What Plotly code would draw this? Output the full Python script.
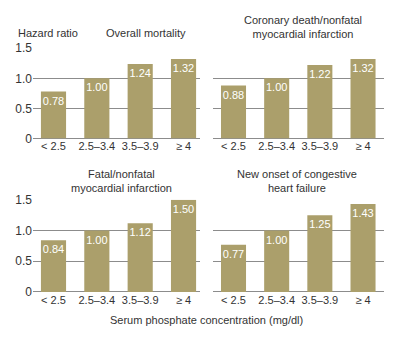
import plotly.graph_objects as go

categories = ["< 2.5", "2.5\u20133.4", "3.5\u20133.9", "\u2265 4"]
overall_mortality = [0.78, 1.00, 1.24, 1.32]
coronary_death = [0.88, 1.00, 1.22, 1.32]
fatal_mi = [0.84, 1.00, 1.12, 1.50]
heart_failure = [0.77, 1.00, 1.25, 1.43]
panel_titles = ["Overall mortality",
                "Coronary death/nonfatal<br>myocardial infarction",
                "Fatal/nonfatal<br>myocardial infarction",
                "New onset of congestive<br>heart failure"]
y_ticks = [0, 0.5, 1.0, 1.5]
y_ticktext = ["0", "0.5", "1.0", "1.5"]

W, H = 400, 344
FONT = "Liberation Sans, Arial, sans-serif"
FS = 11
BAR = "#ab9f6b"
GRID = "#8c8c8c"
TXT = "#333333"

def px(x):
    return x / W

def py(y):
    return 1 - y / H

panels = [
    (overall_mortality, "x", "y", 33, 200, 43, 137, [-0.473, 3.38], True),
    (coronary_death, "x2", "y2", 213, 384, 43, 137, [-0.475, 3.486], False),
    (fatal_mi, "x3", "y3", 33, 200, 201, 297, [-0.473, 3.38], True),
    (heart_failure, "x4", "y4", 213, 384, 201, 297, [-0.475, 3.486], False),
]

fig = go.Figure()
layout = dict(
    width=W, height=H,
    margin=dict(l=0, r=0, t=0, b=0),
    paper_bgcolor="white", plot_bgcolor="white",
    showlegend=False,
    bargap=0.42,
    font=dict(family=FONT, size=FS, color=TXT),
)

for vals, xa, ya, x0, x1, yt, yb, xr, showy in panels:
    fig.add_trace(go.Bar(
        x=categories, y=vals, xaxis=xa, yaxis=ya,
        marker=dict(color=BAR, line=dict(width=0)),
        text=[f"{v:.2f}" for v in vals],
        textposition="inside", insidetextanchor="end",
        textangle=0, constraintext="none",
        textfont=dict(color="white", size=FS, family=FONT),
        hoverinfo="skip", cliponaxis=False,
    ))
    xkey = "xaxis" + xa[1:]
    ykey = "yaxis" + ya[1:]
    layout[xkey] = dict(
        domain=[px(x0), px(x1)], anchor=ya, range=xr,
        showgrid=False, zeroline=False, showline=False,
        ticks="", tickfont=dict(size=FS, color=TXT, family=FONT),
        fixedrange=True,
    )
    layout[ykey] = dict(
        domain=[py(yb), py(yt)], anchor=xa, range=[0, 1.5],
        tickvals=y_ticks, ticktext=y_ticktext,
        showticklabels=showy, showgrid=True, gridcolor=GRID, gridwidth=1,
        zeroline=True, zerolinecolor=GRID, zerolinewidth=1,
        showline=False, ticks="",
        tickfont=dict(size=FS + 1, color=TXT, family=FONT),
        fixedrange=True,
    )

annotations = [
    dict(text="Hazard ratio", x=px(16), y=py(27), xanchor="left", yanchor="middle"),
    dict(text=panel_titles[0], x=px(146), y=py(27), xanchor="center", yanchor="middle"),
    dict(text=panel_titles[1], x=px(303), y=py(21), xanchor="center", yanchor="middle"),
    dict(text=panel_titles[2], x=px(121), y=py(181), xanchor="center", yanchor="middle"),
    dict(text=panel_titles[3], x=px(297), y=py(181), xanchor="center", yanchor="middle"),
    dict(text="Serum phosphate concentration (mg/dl)", x=px(206), y=py(326),
         xanchor="center", yanchor="middle"),
]
for a in annotations:
    a.update(xref="paper", yref="paper", showarrow=False,
             font=dict(family=FONT, size=FS, color=TXT))
layout["annotations"] = annotations

fig.update_layout(**layout)
fig.write_html("out.html")
